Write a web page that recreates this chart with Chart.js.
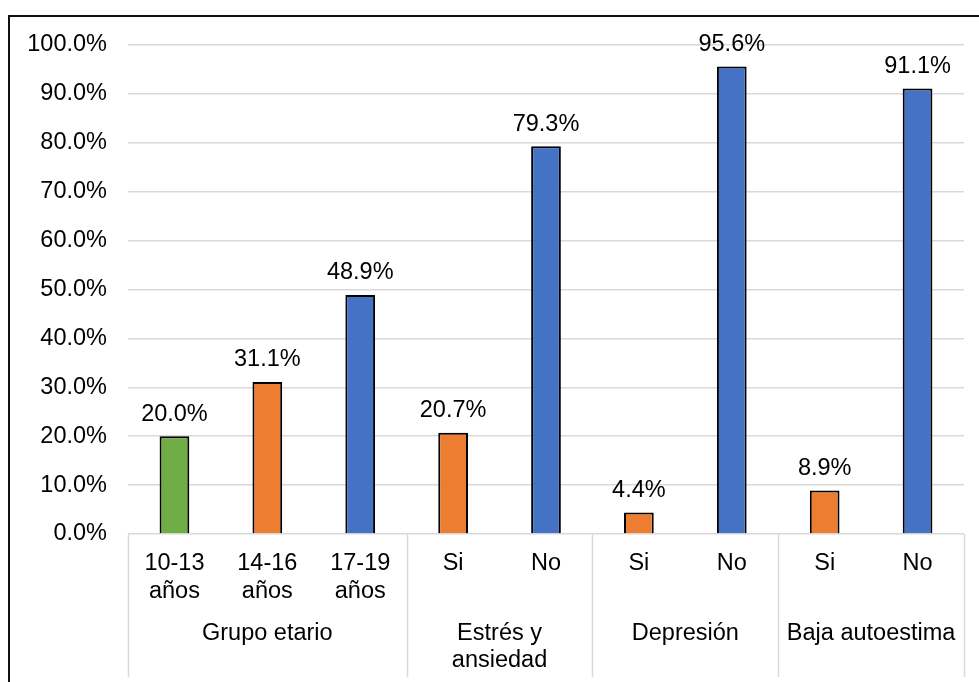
<!DOCTYPE html>
<html>
<head>
<meta charset="utf-8">
<script src="https://cdn.jsdelivr.net/npm/chart.js@4.4.1/dist/chart.umd.min.js"></script>
<style>
  html, body { margin: 0; padding: 0; background: #fff; overflow: hidden; }
  #wrap { position: relative; width: 979px; height: 682px; }
  #frame { position: absolute; left: 8px; top: 15px; width: 1200px; height: 1200px; border: 2px solid #111; box-sizing: border-box; }
  #chart { position: absolute; left: 0; top: 0; }
</style>
</head>
<body>
<div id="wrap">
  <div id="frame"></div>
  <canvas id="chart" width="979" height="682"></canvas>
</div>
<script>
// categories and groups
var subLabels = [['10-13', 'años'], ['14-16', 'años'], ['17-19', 'años'], 'Si', 'No', 'Si', 'No', 'Si', 'No'];
var groupLabels = [['Grupo etario'], ['Estrés y', 'ansiedad'], ['Depresión'], ['Baja autoestima']];
var groupSizes = [3, 2, 2, 2];

// percentages
var values = [20.0, 31.1, 48.9, 20.7, 79.3, 4.4, 95.6, 8.9, 91.1];

// y axis ticks
var yTicks = [0, 10, 20, 30, 40, 50, 60, 70, 80, 90, 100];

const GREEN = '#70AD47';
const ORANGE = '#ED7D31';
const BLUE = '#4472C4';
var barColors = [GREEN, ORANGE, BLUE, ORANGE, BLUE, ORANGE, BLUE, ORANGE, BLUE];

const FONT = "'Liberation Sans', Arial, sans-serif";
const FSIZE = 23.5;
const GRID = '#D9D9D9';

// value labels above each bar
var valueLabels = {
  id: 'valueLabels',
  afterDatasetsDraw: function (chart) {
    var ctx = chart.ctx;
    var meta = chart.getDatasetMeta(0);
    ctx.save();
    ctx.font = FSIZE + 'px ' + FONT;
    ctx.fillStyle = '#000';
    ctx.textAlign = 'center';
    ctx.textBaseline = 'middle';
    meta.data.forEach(function (bar, i) {
      ctx.fillText(values[i].toFixed(1) + '%', bar.x, bar.y - 22);
    });
    ctx.restore();
  }
};

// group separators and group names under the category labels
var groupAxis = {
  id: 'groupAxis',
  afterDraw: function (chart) {
    var ctx = chart.ctx;
    var x = chart.scales.x;
    var top = chart.chartArea.bottom;
    var half = (x.getPixelForValue(1) - x.getPixelForValue(0)) / 2;
    ctx.save();
    ctx.strokeStyle = GRID;
    ctx.lineWidth = 1.5;
    var start = 0;
    var edges = [x.getPixelForValue(0) - half];
    groupSizes.forEach(function (n) {
      start += n;
      edges.push(x.getPixelForValue(start - 1) + half);
    });
    edges.forEach(function (px) {
      ctx.beginPath();
      ctx.moveTo(Math.round(px) + 0.5, top);
      ctx.lineTo(Math.round(px) + 0.5, 677);
      ctx.stroke();
    });
    ctx.font = FSIZE + 'px ' + FONT;
    ctx.fillStyle = '#000';
    ctx.textAlign = 'center';
    ctx.textBaseline = 'middle';
    groupLabels.forEach(function (lines, g) {
      var cx = (edges[g] + edges[g + 1]) / 2;
      lines.forEach(function (t, k) {
        ctx.fillText(t, cx, 634 + k * 27);
      });
    });
    ctx.restore();
  }
};

new Chart(document.getElementById('chart'), {
  type: 'bar',
  data: {
    labels: subLabels,
    datasets: [{
      data: values,
      backgroundColor: barColors,
      borderColor: '#000',
      borderWidth: 2,
      categoryPercentage: 1,
      barPercentage: 0.32
    }]
  },
  options: {
    responsive: false,
    animation: false,
    devicePixelRatio: 1,
    layout: { padding: { left: 0, right: 15, top: 45, bottom: 0 } },
    plugins: { legend: { display: false }, tooltip: { enabled: false } },
    scales: {
      x: {
        grid: { display: false, drawTicks: false },
        border: { display: false },
        ticks: {
          color: '#000',
          font: { family: FONT, size: FSIZE },
          padding: 15,
          maxRotation: 0,
          autoSkip: false
        },
        afterFit: function (scale) { scale.height = 148; }
      },
      y: {
        min: yTicks[0],
        max: yTicks[yTicks.length - 1],
        afterBuildTicks: function (scale) {
          scale.ticks = yTicks.map(function (v) { return { value: v }; });
        },
        grid: { color: GRID, lineWidth: 1.5, drawTicks: false },
        border: { display: false },
        ticks: {
          color: '#000',
          font: { family: FONT, size: FSIZE },
          padding: 21,
          callback: function (v) { return v.toFixed(1) + '%'; }
        },
        afterFit: function (scale) { scale.width = 128; }
      }
    }
  },
  plugins: [valueLabels, groupAxis]
});
</script>
</body>
</html>
